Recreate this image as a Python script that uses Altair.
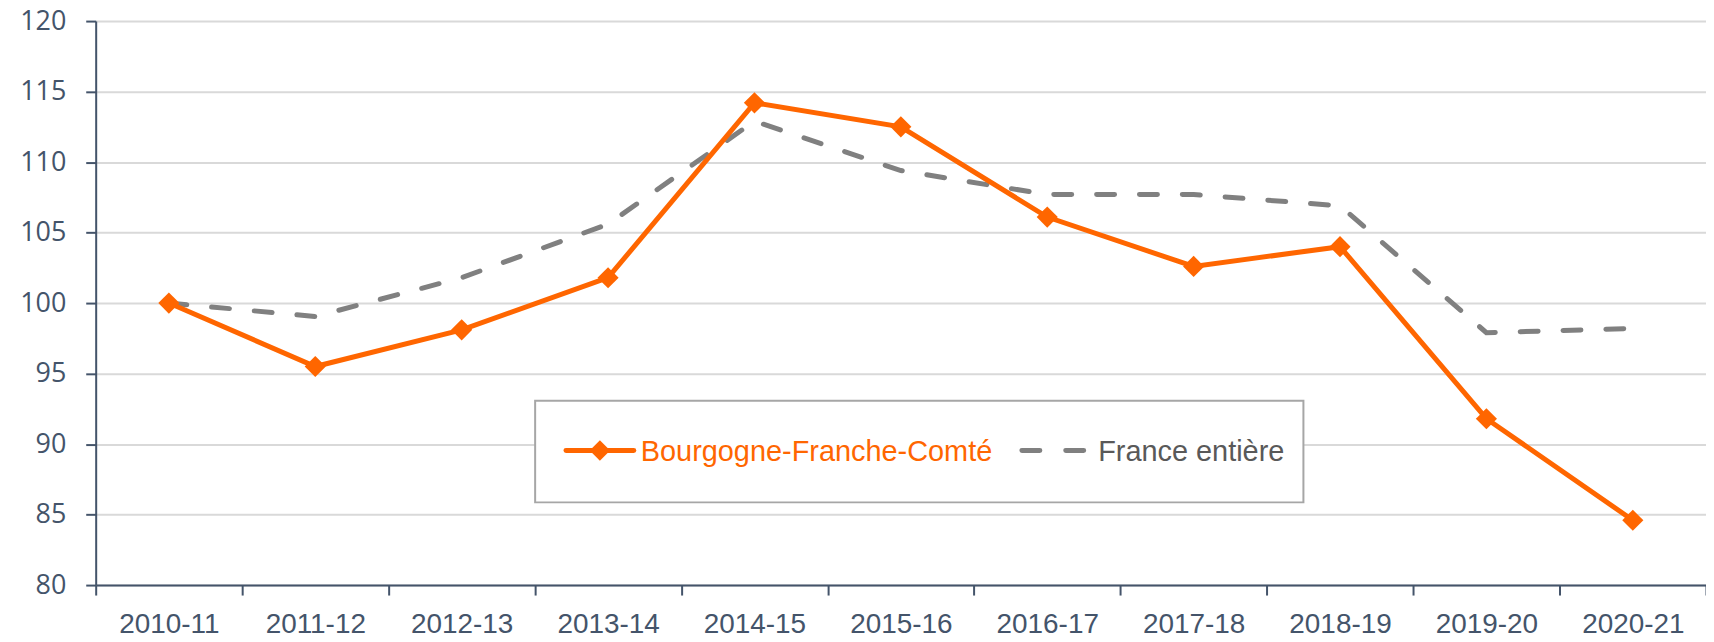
import altair as alt
import pandas as pd

seasons = ["2010-11", "2011-12", "2012-13", "2013-14", "2014-15", "2015-16",
           "2016-17", "2017-18", "2018-19", "2019-20", "2020-21"]
bfc = [100.0, 95.5, 98.1, 101.8, 114.2, 112.5, 106.1, 102.6, 104.0, 91.8, 84.6]
france = [100.0, 99.05, 101.8, 105.6, 112.9, 109.4, 107.7, 107.7, 106.9, 97.9, 98.2]
series_names = ["Bourgogne-Franche-Comté", "France entière"]
series_colors = ["#FF6600", "#808080"]
y_ticks = [80, 85, 90, 95, 100, 105, 110, 115, 120]

df = pd.DataFrame({
    "season": seasons * 2,
    "value": bfc + france,
    "serie": [series_names[0]] * len(seasons) + [series_names[1]] * len(seasons),
})

AXIS_COLOR = "#44546A"
SANS = "Liberation Sans"

x_enc = alt.X(
    "season:N", sort=seasons, bandPosition=0.5,
    scale=alt.Scale(type="band", paddingInner=0, paddingOuter=0),
    axis=alt.Axis(title=None, tickBand="extent", labelAngle=0, labelFont=SANS,
                  labelFontSize=28, labelColor=AXIS_COLOR, domainColor=AXIS_COLOR,
                  domainWidth=2, tickColor=AXIS_COLOR, tickWidth=2, tickSize=10,
                  labelPadding=16, grid=False),
)
y_enc = alt.Y(
    "value:Q", scale=alt.Scale(domain=[80, 120], nice=False, zero=False),
    axis=alt.Axis(title=None, values=y_ticks, labelFont="Open Sans", labelFontSize=27,
                  labelColor=AXIS_COLOR, domainColor=AXIS_COLOR, domainWidth=2,
                  tickColor=AXIS_COLOR, tickWidth=2, tickSize=10, labelPadding=20,
                  grid=True, gridColor="#D9D9D9", gridWidth=2),
)
color_enc = alt.Color("serie:N", scale=alt.Scale(domain=series_names, range=series_colors),
                      legend=None)

base = alt.Chart(df)

france_line = base.transform_filter(alt.datum.serie == series_names[1]).mark_line(
    strokeWidth=5, strokeDash=[18, 25], strokeCap="round"
).encode(x=x_enc, y=y_enc, color=color_enc)

bfc_line = base.transform_filter(alt.datum.serie == series_names[0]).mark_line(
    strokeWidth=5
).encode(x=x_enc, y=y_enc, color=color_enc)

bfc_pts = base.transform_filter(alt.datum.serie == series_names[0]).mark_point(
    shape="diamond", filled=True, size=450, opacity=1
).encode(x=x_enc, y=y_enc, color=color_enc)

# Legend (drawn by hand)
leg = alt.Chart(pd.DataFrame({"k": [0]}))
leg_box = leg.mark_rect(fill="white", stroke="#A6A6A6", strokeWidth=2).encode(
    x=alt.value(441), x2=alt.value(1212), y=alt.value(381), y2=alt.value(483))
leg_orange = leg.mark_rule(color="#FF6600", strokeWidth=5, strokeCap="round").encode(
    x=alt.value(472), x2=alt.value(540), y=alt.value(431))
leg_diamond = leg.mark_point(shape="diamond", filled=True, size=420, color="#FF6600",
                             opacity=1).encode(x=alt.value(506), y=alt.value(431))
leg_gray = leg.mark_rule(color="#808080", strokeWidth=5, strokeCap="round",
                         strokeDash=[18, 26]).encode(
    x=alt.value(929.5), x2=alt.value(992), y=alt.value(431))
leg_t1 = leg.mark_text(text=series_names[0], align="left", baseline="middle",
                       font=SANS, fontSize=29, color="#FF6600").encode(
    x=alt.value(547), y=alt.value(432))
leg_t2 = leg.mark_text(text=series_names[1], align="left", baseline="middle",
                       font=SANS, fontSize=29, color="#595959").encode(
    x=alt.value(1006), y=alt.value(432))

chart = alt.layer(
    france_line, bfc_line, bfc_pts,
    leg_box, leg_orange, leg_diamond, leg_gray, leg_t1, leg_t2,
).properties(
    width=1616, height=566,
    autosize=alt.AutoSizeParams(type="none"),
    padding={"left": 88, "top": 12, "right": 0, "bottom": 56},
).configure_view(stroke=None).configure(background="white")

chart.save("out.html", embed_options={"renderer": "svg", "actions": False})
